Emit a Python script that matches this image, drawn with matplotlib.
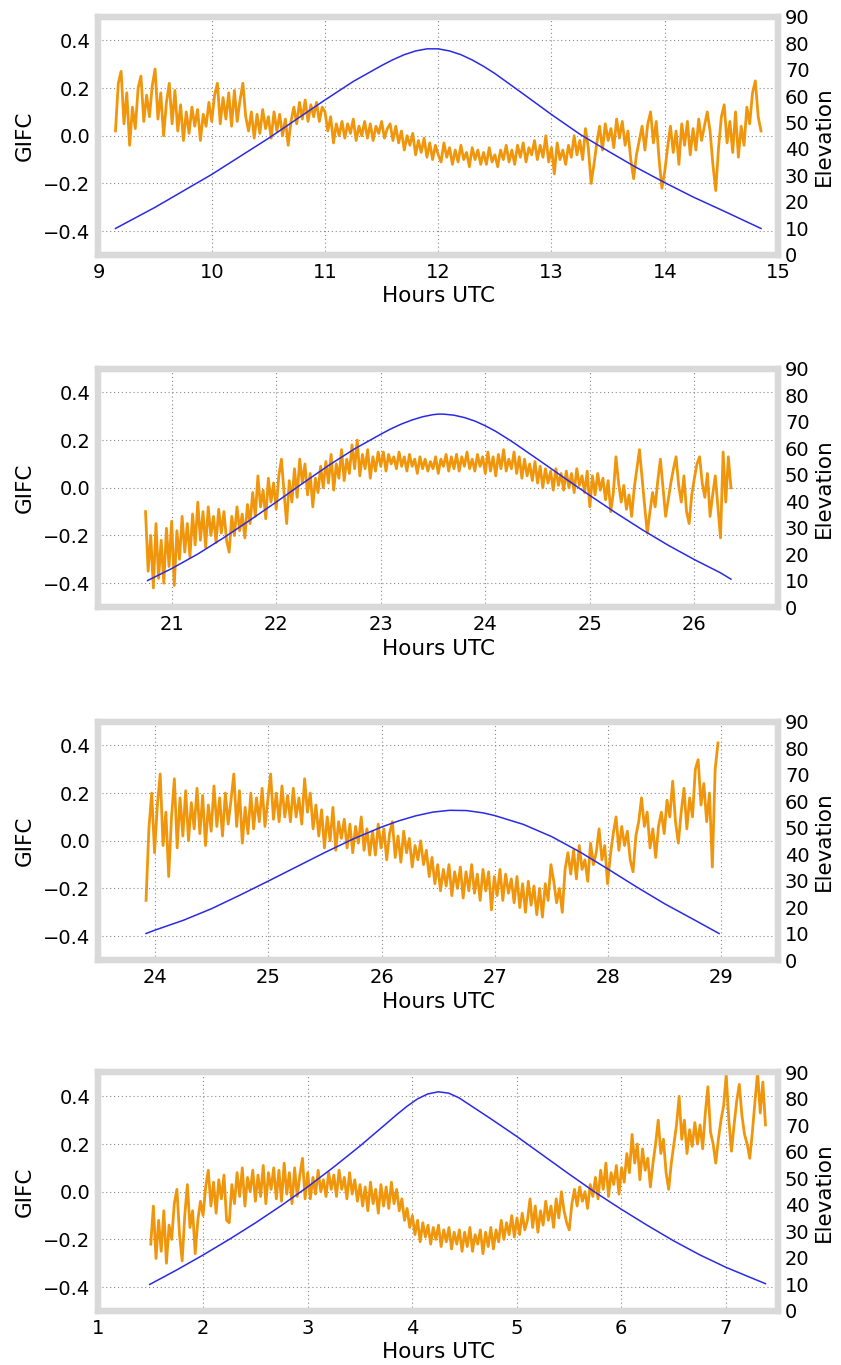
import numpy as np
import matplotlib
matplotlib.use("Agg")
import matplotlib.pyplot as plt
from matplotlib.ticker import MultipleLocator

# GIFC traces, values every 0.025 h between start and end
gifc1_t = (9.15, 14.85)
gifc1 = [
    0.02, 0.22, 0.27, 0.05, 0.18, -0.04, 0.12, 0.03, 0.20, 0.25,
    0.06, 0.17, 0.08, 0.21, 0.28, 0.07, 0.18, 0.00, 0.14, 0.22,
    0.05, 0.19, 0.02, 0.13, -0.02, 0.10, 0.01, 0.12, 0.04, 0.11,
    -0.02, 0.09, 0.04, 0.14, 0.06, 0.17, 0.22, 0.05, 0.16, 0.07,
    0.18, 0.04, 0.19, 0.06, 0.15, 0.22, 0.08, 0.02, 0.10, -0.01,
    0.09, 0.01, 0.11, 0.03, 0.08, -0.01, 0.10, 0.02, 0.09, 0.00,
    0.07, -0.04, 0.06, 0.12, 0.05, 0.14, 0.07, 0.15, 0.06, 0.13,
    0.08, 0.14, 0.06, 0.12, 0.10, 0.02, 0.08, -0.03, 0.05, 0.00,
    0.06, -0.01, 0.05, 0.01, 0.07, -0.02, 0.04, 0.00, 0.06, -0.01,
    0.05, -0.02, 0.04, 0.01, 0.06, -0.01, 0.03, 0.05, -0.02, 0.04,
    -0.03, 0.02, -0.06, 0.00, -0.04, 0.01, -0.08, -0.02, -0.07, -0.01,
    -0.09, -0.03, -0.10, -0.04, -0.08, -0.11, -0.03, -0.09, -0.05, -0.12,
    -0.06, -0.11, -0.04, -0.10, -0.07, -0.13, -0.05, -0.10, -0.06, -0.12,
    -0.07, -0.12, -0.05, -0.11, -0.08, -0.13, -0.06, -0.10, -0.04, -0.11,
    -0.06, -0.12, -0.04, -0.09, -0.03, -0.11, -0.05, -0.08, -0.02, -0.10,
    -0.04, -0.09, 0.00, -0.11, -0.05, -0.16, -0.03, -0.10, -0.06, -0.12,
    -0.04, -0.09, 0.00, -0.08, -0.02, -0.10, 0.03, -0.05, -0.20, -0.12,
    -0.03, 0.04, -0.06, 0.05, -0.02, 0.03, -0.05, 0.07, -0.01, 0.06,
    -0.04, 0.02, -0.10, -0.18, -0.08, -0.02, 0.04, -0.06, 0.05, 0.10,
    -0.03, 0.06, -0.10, -0.22, -0.15, -0.05, 0.04, -0.07, 0.02, -0.12,
    0.05, -0.04, 0.06, -0.08, 0.03, -0.06, 0.07, -0.02, 0.04, 0.10,
    0.02, -0.12, -0.23, -0.05, 0.08, 0.13, -0.03, 0.06, -0.07, 0.10,
    -0.09, 0.04, -0.04, 0.12, 0.05, 0.18, 0.23, 0.08, 0.02,
]

gifc2_t = (20.75, 26.35)
gifc2 = [
    -0.10, -0.35, -0.20, -0.42, -0.15, -0.38, -0.22, -0.40, -0.17, -0.33,
    -0.14, -0.41, -0.18, -0.30, -0.12, -0.27, -0.15, -0.29, -0.11, -0.24,
    -0.06, -0.22, -0.10, -0.25, -0.08, -0.20, -0.12, -0.23, -0.09, -0.19,
    -0.10, -0.22, -0.27, -0.12, -0.20, -0.08, -0.18, -0.11, -0.21, -0.07,
    -0.15, -0.02, -0.12, 0.05, -0.08, -0.01, -0.13, 0.04, -0.06, 0.02,
    -0.09, 0.05, 0.12, -0.02, -0.15, 0.03, -0.06, 0.08, -0.04, 0.12,
    0.02, 0.10, -0.03, 0.06, -0.08, 0.04, -0.02, 0.09, 0.00, 0.11,
    0.02, 0.14, -0.01, 0.10, 0.04, 0.16, 0.03, 0.12, 0.06, 0.18,
    0.08, 0.20, 0.05, 0.14, 0.08, 0.16, 0.04, 0.13, 0.07, 0.15,
    0.09, 0.15, 0.07, 0.14, 0.10, 0.13, 0.08, 0.15, 0.09, 0.13,
    0.07, 0.14, 0.09, 0.12, 0.06, 0.13, 0.08, 0.12, 0.07, 0.11,
    0.08, 0.13, 0.06, 0.12, 0.09, 0.14, 0.07, 0.13, 0.08, 0.14,
    0.07, 0.13, 0.09, 0.15, 0.08, 0.12, 0.07, 0.14, 0.09, 0.13,
    0.06, 0.15, 0.07, 0.13, 0.05, 0.14, 0.08, 0.16, 0.07, 0.12,
    0.08, 0.15, 0.06, 0.13, 0.04, 0.12, 0.05, 0.10, 0.03, 0.11,
    0.02, 0.09, 0.00, 0.08, 0.02, 0.07, -0.01, 0.08, 0.01, 0.06,
    -0.01, 0.07, 0.00, 0.06, -0.02, 0.08, 0.01, 0.05, -0.02, 0.07,
    -0.08, 0.05, -0.03, 0.06, -0.01, 0.04, -0.05, 0.03, -0.10, -0.02,
    0.13, 0.02, -0.06, 0.01, -0.09, -0.03, -0.12, 0.00, 0.08, 0.16,
    0.04, -0.08, -0.19, -0.10, -0.02, -0.08, 0.03, 0.12, 0.00, -0.12,
    -0.05, 0.02, 0.08, 0.13, 0.01, -0.06, 0.05, -0.10, -0.15, -0.03,
    0.04, 0.10, 0.13, 0.02, -0.04, 0.06, -0.12, -0.03, 0.05, -0.08,
    -0.21, 0.15, -0.06, 0.13, 0.00,
]

gifc3_t = (23.92, 28.97)
gifc3 = [
    -0.25, 0.05, 0.20, -0.05, 0.15, 0.28, -0.02, 0.12, -0.15, 0.10,
    0.26, -0.03, 0.18, 0.02, 0.21, 0.00, 0.16, 0.05, 0.22, 0.03,
    0.19, -0.02, 0.15, 0.04, 0.23, 0.06, 0.18, 0.02, 0.20, 0.07,
    0.17, 0.28, 0.06, 0.21, -0.01, 0.14, 0.03, 0.20, 0.05, 0.18,
    0.08, 0.22, 0.06, 0.17, 0.28, 0.09, 0.20, 0.08, 0.23, 0.10,
    0.19, 0.08, 0.22, 0.10, 0.18, 0.07, 0.26, 0.12, 0.20, 0.05,
    0.15, 0.02, 0.13, -0.03, 0.10, 0.00, 0.14, -0.04, 0.08, 0.01,
    0.09, -0.03, 0.07, -0.05, 0.06, -0.01, 0.10, -0.04, 0.05, -0.06,
    0.04, -0.06, 0.07, -0.03, 0.05, -0.08, 0.03, 0.08, -0.07, 0.02,
    -0.09, 0.04, -0.05, 0.01, -0.11, -0.02, -0.08, 0.00, -0.10, -0.04,
    -0.15, -0.07, -0.18, -0.10, -0.21, -0.12, -0.19, -0.10, -0.23, -0.13,
    -0.20, -0.11, -0.24, -0.13, -0.21, -0.10, -0.22, -0.14, -0.25, -0.12,
    -0.21, -0.13, -0.29, -0.15, -0.23, -0.12, -0.25, -0.14, -0.22, -0.16,
    -0.26, -0.15, -0.28, -0.18, -0.30, -0.17, -0.27, -0.19, -0.31, -0.20,
    -0.32, -0.18, -0.25, -0.10, -0.17, -0.26, -0.20, -0.30, -0.12, -0.05,
    -0.14, -0.04, -0.16, -0.02, -0.12, -0.08, -0.17, -0.01, -0.10, -0.05,
    0.05, -0.08, -0.02, -0.18, -0.06, 0.03, 0.10, -0.04, 0.06, -0.02,
    0.04, -0.08, -0.13, 0.02, 0.08, 0.18, 0.06, 0.12, -0.03, 0.05,
    -0.07, 0.06, 0.12, 0.03, 0.17, 0.10, 0.25, 0.08, -0.01, 0.12,
    0.22, 0.05, 0.18, 0.10, 0.30, 0.34, 0.15, 0.24, 0.08, 0.20,
    -0.11, 0.30, 0.41,
]

gifc4_t = (1.50, 7.38)
gifc4 = [
    -0.22, -0.06, -0.28, -0.12, -0.25, -0.08, -0.30, -0.14, -0.20, -0.05,
    0.01, -0.18, -0.29, -0.10, 0.03, -0.15, -0.08, -0.26, -0.12, -0.04,
    -0.10, 0.02, 0.09, -0.06, 0.04, -0.09, 0.05, -0.03, 0.07, -0.12,
    -0.13, 0.03, -0.05, 0.08, -0.02, 0.10, -0.06, 0.06, 0.00, 0.09,
    -0.04, 0.07, -0.02, 0.11, -0.05, 0.08, 0.01, 0.10, -0.03, 0.09,
    -0.04, 0.12, -0.01, 0.08, -0.05, 0.10, -0.02, 0.07, 0.14, -0.03,
    0.08, -0.03, 0.06, -0.01, 0.09, 0.00, 0.05, -0.02, 0.08, 0.01,
    0.07, -0.02, 0.09, 0.01, 0.06, -0.03, 0.08, -0.01, 0.05, -0.04,
    0.03, -0.06, 0.02, -0.08, 0.04, -0.05, 0.01, -0.09, 0.03, -0.06,
    0.02, -0.07, 0.04, -0.05, 0.01, -0.08, -0.03, -0.12, -0.07, -0.15,
    -0.10, -0.18, -0.12, -0.21, -0.13, -0.19, -0.14, -0.22, -0.15, -0.20,
    -0.14, -0.23, -0.16, -0.21, -0.15, -0.24, -0.17, -0.22, -0.16, -0.25,
    -0.17, -0.23, -0.15, -0.25, -0.18, -0.22, -0.16, -0.26, -0.17, -0.23,
    -0.15, -0.24, -0.16, -0.21, -0.12, -0.20, -0.13, -0.18, -0.10, -0.19,
    -0.11, -0.18, -0.09, -0.16, -0.12, -0.03, -0.15, -0.06, -0.17, -0.08,
    -0.14, -0.04, -0.12, -0.06, -0.15, -0.03, -0.11, 0.00, -0.08, -0.13,
    -0.16, -0.05, 0.01, -0.06, 0.02, -0.04, 0.00, -0.07, 0.03, -0.02,
    0.06, -0.03, 0.09, 0.01, 0.12, -0.02, 0.08, 0.03, 0.11, -0.01,
    0.10, 0.04, 0.16, 0.08, 0.24, 0.12, 0.20, 0.05, 0.18, 0.09,
    0.14, 0.02, 0.12, 0.20, 0.30, 0.16, 0.22, 0.08, 0.01, 0.12,
    0.20, 0.28, 0.40, 0.22, 0.30, 0.16, 0.26, 0.19, 0.29, 0.20,
    0.28, 0.18, 0.33, 0.44, 0.25, 0.20, 0.12, 0.22, 0.30, 0.36,
    0.49, 0.30, 0.17, 0.28, 0.38, 0.45, 0.32, 0.24, 0.20, 0.14,
    0.25, 0.38, 0.50, 0.33, 0.46, 0.28,
]

# satellite elevation (deg)
elev1_h = [9.15, 9.5, 10.0, 10.5, 11.0, 11.25, 11.5, 11.6, 11.7, 11.8, 11.9, 12.0,
           12.1, 12.2, 12.3, 12.4, 12.5, 12.75, 13.0, 13.25, 13.5, 13.75, 14.0,
           14.25, 14.5, 14.85]
elev1 = [10, 18, 30.4, 44, 58.5, 65.5, 71.5, 73.7, 75.6, 77.0, 77.8, 77.8,
         77.0, 75.6, 73.6, 71.2, 68.5, 60.8, 53.0, 45.6, 39.2, 33, 27.3,
         21.9, 17, 10]

elev2_h = [20.77, 21.0, 21.25, 21.5, 21.75, 22.0, 22.25, 22.5, 22.75, 23.0, 23.1,
           23.2, 23.3, 23.4, 23.5, 23.55, 23.6, 23.7, 23.8, 23.9, 24.0, 24.1,
           24.25, 24.5, 24.75, 25.0, 25.25, 25.5, 25.75, 26.0, 26.25, 26.35]
elev2 = [10, 14.5, 20.0, 26.2, 32.8, 39.6, 46.6, 53.4, 59.7, 65.2, 67.3,
         69.1, 70.6, 71.8, 72.6, 72.8, 72.8, 72.4, 71.5, 70.2, 68.4, 66.3,
         62.6, 55.8, 48.9, 42.1, 35.5, 29.2, 23.3, 17.9, 12.9, 10.5]

elev3_h = [23.92, 24.0, 24.25, 24.5, 24.75, 25.0, 25.25, 25.5, 25.75, 26.0, 26.15,
           26.3, 26.45, 26.6, 26.75, 26.9, 27.0, 27.25, 27.5, 27.75, 28.0, 28.25,
           28.5, 28.75, 28.98]
elev3 = [10, 11.3, 15.0, 19.4, 24.5, 29.8, 35.2, 40.6, 45.7, 50.2, 52.5,
         54.4, 55.8, 56.5, 56.4, 55.5, 54.5, 51.2, 46.6, 40.8, 34.3, 27.6,
         21.2, 15.4, 10]

elev4_h = [1.49, 1.75, 2.0, 2.25, 2.5, 2.75, 3.0, 3.25, 3.5, 3.75, 3.85, 3.95,
           4.05, 4.15, 4.25, 4.35, 4.45, 4.55, 4.75, 5.0, 5.25, 5.5, 5.75, 6.0,
           6.25, 6.5, 6.75, 7.0, 7.25, 7.38]
elev4 = [10, 15.5, 21.1, 27.0, 33.2, 39.8, 46.8, 54.3, 62.2, 70.6, 74.0, 77.2,
         80.0, 81.9, 82.7, 82.2, 80.4, 77.8, 72.6, 65.9, 58.8, 51.7, 44.8, 38.4,
         32.3, 26.5, 21.2, 16.5, 12.4, 10.3]

xlims = [(9, 15), (20.3, 26.8), (23.5, 29.5), (1, 7.5)]
panels = [
    (gifc1_t, gifc1, elev1_h, elev1),
    (gifc2_t, gifc2, elev2_h, elev2),
    (gifc3_t, gifc3, elev3_h, elev3),
    (gifc4_t, gifc4, elev4_h, elev4),
]

ORANGE = '#f0960c'
BLUE = '#2a2ae6'
FRAME = '#d9d9d9'

fig = plt.figure(figsize=(8.41, 13.65), dpi=100)
bottoms = [0.8132, 0.5553, 0.2967, 0.0396]
left, width, height = 0.1171, 0.808, 0.1747

for (tt, g, eh, ev), xl, b in zip(panels, xlims, bottoms):
    ax = fig.add_axes([left, b, width, height])
    t = np.linspace(tt[0], tt[1], len(g))
    ax.plot(t, g, color=ORANGE, lw=2.0, zorder=2)
    ax.set_xlim(*xl)
    ax.set_ylim(-0.5, 0.5)
    ax.set_yticks([-0.4, -0.2, 0.0, 0.2, 0.4])
    ax.xaxis.set_major_locator(MultipleLocator(1))
    ax.grid(True, linestyle=(0, (1, 2.5)), color='#8a8a8a', lw=0.8)
    ax.set_axisbelow(True)
    ax.set_xlabel('Hours UTC', fontsize=15.5, labelpad=3)
    ax.set_ylabel('GIFC', fontsize=15.5, labelpad=6)
    ax.tick_params(length=0, labelsize=14, pad=6)

    ax2 = ax.twinx()
    ax2.plot(eh, ev, color=BLUE, lw=1.1)
    ax2.set_ylim(0, 90)
    ax2.set_yticks(range(0, 91, 10))
    ax2.set_ylabel('Elevation', fontsize=15.5, labelpad=3)
    ax2.tick_params(length=0, labelsize=14, pad=5)

    for a in (ax, ax2):
        for s in a.spines.values():
            s.set_color(FRAME)
            s.set_linewidth(4.5)

fig.savefig('out.png', dpi=100)
